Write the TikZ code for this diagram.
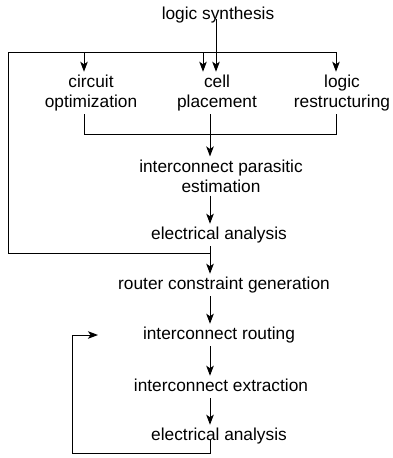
\documentclass[tikz,border=0pt]{standalone}
\usepackage{fontspec}
\setmainfont{Liberation Sans}
\usetikzlibrary{arrows.meta}
\begin{document}
\begin{tikzpicture}[x=1pt,y=-1pt,
  lbl/.style={font=\fontsize{17.3}{20}\selectfont, inner xsep=0pt, inner ysep=3pt, align=center},
  one/.style={lbl, text height=12.4pt, text depth=3.7pt},
  conn/.style={line width=1pt},
  arr/.style={conn, -{Stealth[length=10pt,width=7.5pt,inset=2.5pt]}}]
\useasboundingbox (0,0) rectangle (392,458);
% nodes
\node[one] (ls)  at (218,15)  {logic synthesis};
\node[lbl] (co)  at (91,93)   {circuit\\optimization};
\node[lbl] (cp)  at (217,93)  {cell\\placement};
\node[lbl] (lr)  at (342,93)  {logic\\restructuring};
\node[lbl] (ipe) at (221,176) {interconnect parasitic\\estimation};
\node[one] (ea1) at (219,235) {electrical analysis};
\node[one] (rcg) at (224,285) {router constraint generation};
\node[one] (ir)  at (219,335) {interconnect routing};
\node[one] (iex) at (221,387) {interconnect extraction};
\node[one] (ea2) at (219,436) {electrical analysis};
% coordinates
\coordinate (busL) at (8,52);
\coordinate (b1) at (84,52);
\coordinate (b2) at (203,52);
\coordinate (b3) at (336,52);
\coordinate (s0) at (216,52);
\coordinate (m1) at (84,134);
\coordinate (m2) at (210,134);
\coordinate (m3) at (336,134);
\coordinate (k)  at (8,253);
\coordinate (j)  at (210,253);
\coordinate (f1) at (210,453);
\coordinate (f2) at (72,453);
\coordinate (f3) at (72,335);
\coordinate (f4) at (98,335);
% top distribution
\draw[arr] (ls.base -| s0) -- (cp.north -| s0);
\draw[conn] (busL) -- (b3);
\draw[arr] (b1) -- (b1 |- co.north);
\draw[arr] (b2) -- (b2 |- cp.north);
\draw[arr] (b3) -- (b3 |- lr.north);
% collector
\draw[conn] (m1 |- co.south) -- (m1) -- (m3) -- (m3 |- lr.south);
\draw[conn] (m2 |- cp.south) -- (m2);
\draw[arr] (m2) -- (m2 |- ipe.north);
\draw[arr] (ipe.south -| m2) -- (ea1.north -| m2);
% left loop
\draw[conn] (busL) -- (k) -- (j);
\draw[arr] (ea1.south -| m2) -- (rcg.north -| m2);
\draw[arr] (rcg.south -| m2) -- (ir.north -| m2);
\draw[arr] (ir.south -| m2) -- (iex.north -| m2);
\draw[arr] (iex.south -| m2) -- (ea2.north -| m2);
% bottom feedback
\draw[arr] (ea2.base -| m2) -- (f1) -- (f2) -- (f3) -- (f4);
\end{tikzpicture}
\end{document}
